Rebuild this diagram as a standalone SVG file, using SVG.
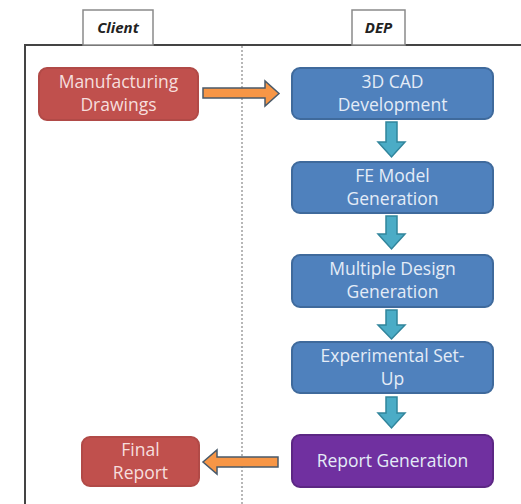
<svg xmlns="http://www.w3.org/2000/svg" width="521" height="504" viewBox="0 0 521 504">
<style>
.box{stroke-width:2}
.red{fill:#c0504d;stroke:#b14a47}
.blue{fill:#4f81bd;stroke:#3f6a9c}
.purple{fill:#7030a0;stroke:#5c2784}
.lbl{font-family:"Open Sans","Liberation Sans",sans-serif;font-size:17.5px;fill:#e4ecf7;text-anchor:middle}
.redlbl{fill:#f6dedd}
.tab{fill:#ffffff;stroke:#8a8a8a;stroke-width:1.5}
.tabtxt{font-family:"Open Sans","Liberation Sans",sans-serif;font-size:15px;font-weight:bold;font-style:italic;fill:#222;text-anchor:middle}
.down{fill:#4bacc6;stroke:#31859c;stroke-width:1.5}
.side{fill:#f79646;stroke:#4a5a6a;stroke-width:1.5}
</style>
<rect width="521" height="504" fill="#ffffff"/>
<g id="frame">
<rect x="25" y="45" width="500" height="470" fill="none" stroke="#444" stroke-width="2"/>
<line x1="242" y1="46" x2="242" y2="504" stroke="#888" stroke-width="1.2" stroke-dasharray="2,2"/>
</g>
<g id="tab-client">
<rect class="tab" x="83" y="10" width="70" height="35"/>
<text class="tabtxt" x="118" y="33">Client</text>
</g>
<g id="tab-dep">
<rect class="tab" x="352" y="10" width="53" height="35"/>
<text class="tabtxt" x="378.5" y="33">DEP</text>
</g>
<g id="connectors">
<polygon class="side" points="203,88 265,88 265,81 279,93.5 265,106 265,98 203,98"/>
<polygon class="side" points="278,457 217,457 217,450 203,462 217,474 217,467 278,467"/>
<polygon class="down" points="386,122 397,122 397,142 405,142 391.5,157 378,142 386,142"/>
<polygon class="down" points="386,216 397,216 397,234 405,234 391.5,249 378,234 386,234"/>
<polygon class="down" points="386,310 397,310 397,325 405,325 391.5,339 378,325 386,325"/>
<polygon class="down" points="386,397 397,397 397,413 405,413 391.5,428 378,413 386,413"/>
</g>
<g id="manufacturing-drawings">
<rect class="box red" x="39" y="68" width="159" height="52" rx="8"/>
<text class="lbl redlbl" x="118.5" y="88">Manufacturing</text>
<text class="lbl redlbl" x="118.5" y="111">Drawings</text>
</g>
<g id="cad">
<rect class="box blue" x="292" y="68" width="201" height="51" rx="8"/>
<text class="lbl" x="392.5" y="88">3D CAD</text>
<text class="lbl" x="392.5" y="111">Development</text>
</g>
<g id="fe-model">
<rect class="box blue" x="292" y="162" width="201" height="51" rx="8"/>
<text class="lbl" x="392.5" y="182">FE Model</text>
<text class="lbl" x="392.5" y="205">Generation</text>
</g>
<g id="multiple-design">
<rect class="box blue" x="292" y="255" width="201" height="52" rx="8"/>
<text class="lbl" x="392.5" y="275">Multiple Design</text>
<text class="lbl" x="392.5" y="298">Generation</text>
</g>
<g id="experimental">
<rect class="box blue" x="292" y="342" width="201" height="51" rx="8"/>
<text class="lbl" x="392.5" y="362">Experimental Set-</text>
<text class="lbl" x="392.5" y="385">Up</text>
</g>
<g id="report-generation">
<rect class="box purple" x="292" y="435" width="201" height="52" rx="8"/>
<text class="lbl" x="392.5" y="467">Report Generation</text>
</g>
<g id="final-report">
<rect class="box red" x="82" y="437" width="117" height="49" rx="8"/>
<text class="lbl redlbl" x="140.5" y="456">Final</text>
<text class="lbl redlbl" x="140.5" y="479">Report</text>
</g>
</svg>
